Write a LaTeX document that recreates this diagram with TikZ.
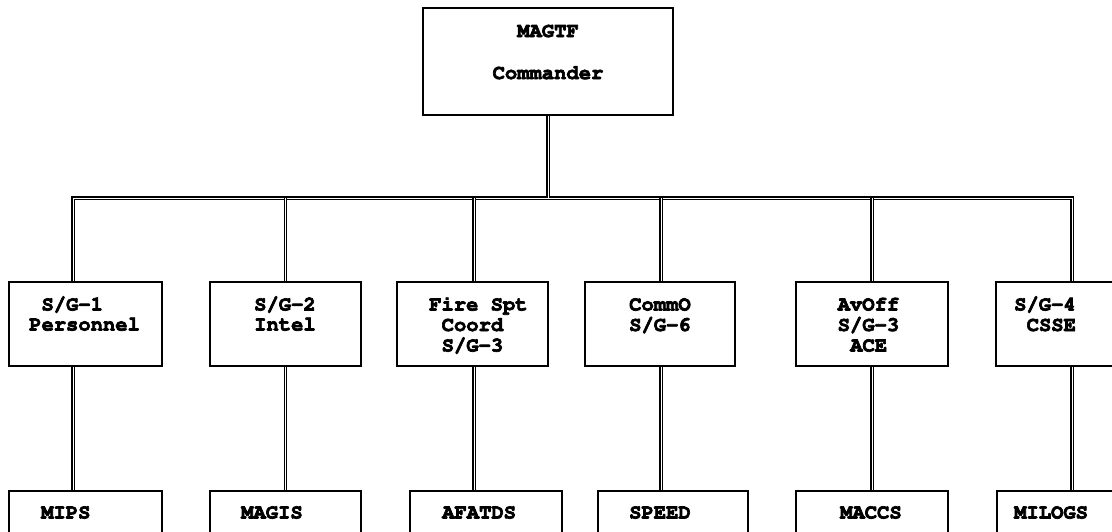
\documentclass[tikz,border=0pt]{standalone}
\usepackage[T1]{fontenc}
\newcommand\heavyon{\special{pdf:literal direct 2 Tr 0.7 w}}
\newcommand\heavyoff{\special{pdf:literal direct 0 Tr}}
\begin{document}
\begin{tikzpicture}[x=1pt,y=-1pt,
  orgbox/.style={draw, line width=1.3pt, fill=white, inner sep=0pt},
  conn/.style={draw, double, line width=1.5pt, double distance=0.7pt},
  txt/.style={inner sep=0pt, anchor=base west, font=\fontencoding{T1}\fontfamily{pcr}\bfseries\fontsize{20.5}{21}\selectfont,
    execute at begin node=\heavyon, execute at end node=\heavyoff},
  ctxt/.style={txt, anchor=base}]
\useasboundingbox (0,0) rectangle (1112,531);
\clip (0,0) rectangle (1112,531);
% boxes
\node[orgbox, minimum width=250pt, minimum height=107pt] (top) at (548,61.5) {};
\node[orgbox, minimum width=153pt, minimum height=84pt] (b1) at (85.5,324) {};
\node[orgbox, minimum width=151pt, minimum height=84pt] (b2) at (285.5,324) {};
\node[orgbox, minimum width=151pt, minimum height=84pt] (b3) at (472.5,324) {};
\node[orgbox, minimum width=150pt, minimum height=84pt] (b4) at (660,324) {};
\node[orgbox, minimum width=152pt, minimum height=84pt] (b5) at (872,324) {};
\node[orgbox, minimum width=152pt, minimum height=84pt] (b6) at (1072,324) {};
\node[orgbox, minimum width=153pt, minimum height=69pt] (m1) at (85.5,525.5) {};
\node[orgbox, minimum width=151pt, minimum height=69pt] (m2) at (285.5,525.5) {};
\node[orgbox, minimum width=152pt, minimum height=69pt] (m3) at (486,525.5) {};
\node[orgbox, minimum width=150pt, minimum height=69pt] (m4) at (673,525.5) {};
\node[orgbox, minimum width=152pt, minimum height=69pt] (m5) at (872,525.5) {};
\node[orgbox, minimum width=152pt, minimum height=69pt] (m6) at (1073,525.5) {};
\coordinate (bus) at (0,198);
% connectors
\draw[conn, shorten <=0.65pt, shorten >=0.65pt] ([xshift=-12.5pt]b1.north) -- ([xshift=-12.5pt]b1.north |- bus) -- (b6.north |- bus) -- (b6.north);
\draw[conn, shorten <=0.65pt] (top.south) -- (top.south |- bus);
\draw[conn, shorten >=0.65pt] (b2.north |- bus) -- (b2.north);
\draw[conn, shorten >=0.65pt] ([xshift=1.5pt]b3.north |- bus) -- ([xshift=1.5pt]b3.north);
\draw[conn, shorten >=0.65pt] ([xshift=1pt]b4.north |- bus) -- ([xshift=1pt]b4.north);
\draw[conn, shorten >=0.65pt] (b5.north |- bus) -- (b5.north);
\draw[conn, shorten <=0.65pt, shorten >=0.65pt] ([xshift=-12.5pt]b1.south) -- ([xshift=-12.5pt]b1.south |- m1.north);
\draw[conn, shorten <=0.65pt, shorten >=0.65pt] (b2.south) -- (b2.south |- m2.north);
\draw[conn, shorten <=0.65pt, shorten >=0.65pt] ([xshift=1.5pt]b3.south) -- ([xshift=1.5pt]b3.south |- m3.north);
\draw[conn, shorten <=0.65pt, shorten >=0.65pt] ([xshift=1pt]b4.south) -- ([xshift=1pt]b4.south |- m4.north);
\draw[conn, shorten <=0.65pt, shorten >=0.65pt] (b5.south) -- (b5.south |- m5.north);
\draw[conn, shorten <=0.65pt, shorten >=0.65pt] (b6.south) -- (b6.south |- m6.north);
% texts
\node[ctxt] (t0a) at (548,37) {MAGTF};
\node[ctxt] (t0b) at (548,79) {Commander};
\node[txt] (t1a) at (41.3,310.5) {S/G-1};
\node[txt] (t1b) at (29,330.5) {Personnel};
\node[txt] (t2a) at (254,310.5) {S/G-2};
\node[txt] (t2b) at (254,330.5) {Intel};
\node[txt] (t3a) at (429,310.5) {Fire Spt};
\node[txt] (t3b) at (441.5,331) {Coord};
\node[txt] (t3c) at (441.5,351.5) {S/G-3};
\node[txt] (t4a) at (629,310.5) {CommO};
\node[txt] (t4b) at (629,331) {S/G-6};
\node[txt] (t5a) at (837.5,310.5) {AvOff};
\node[txt] (t5b) at (837.5,331) {S/G-3};
\node[txt] (t5c) at (850,351.5) {ACE};
\node[txt] (t6a) at (1014,310.5) {S/G-4};
\node[txt] (t6b) at (1026.5,331) {CSSE};
\node[txt] (u1) at (41,518.5) {MIPS};
\node[txt] (u2) at (241,518.5) {MAGIS};
\node[txt] (u3) at (442,518.5) {AFATDS};
\node[txt] (u4) at (629,518.5) {SPEED};
\node[txt] (u5) at (840,518.5) {MACCS};
\node[txt] (u6) at (1014,518.5) {MILOGS};
\end{tikzpicture}
\end{document}
